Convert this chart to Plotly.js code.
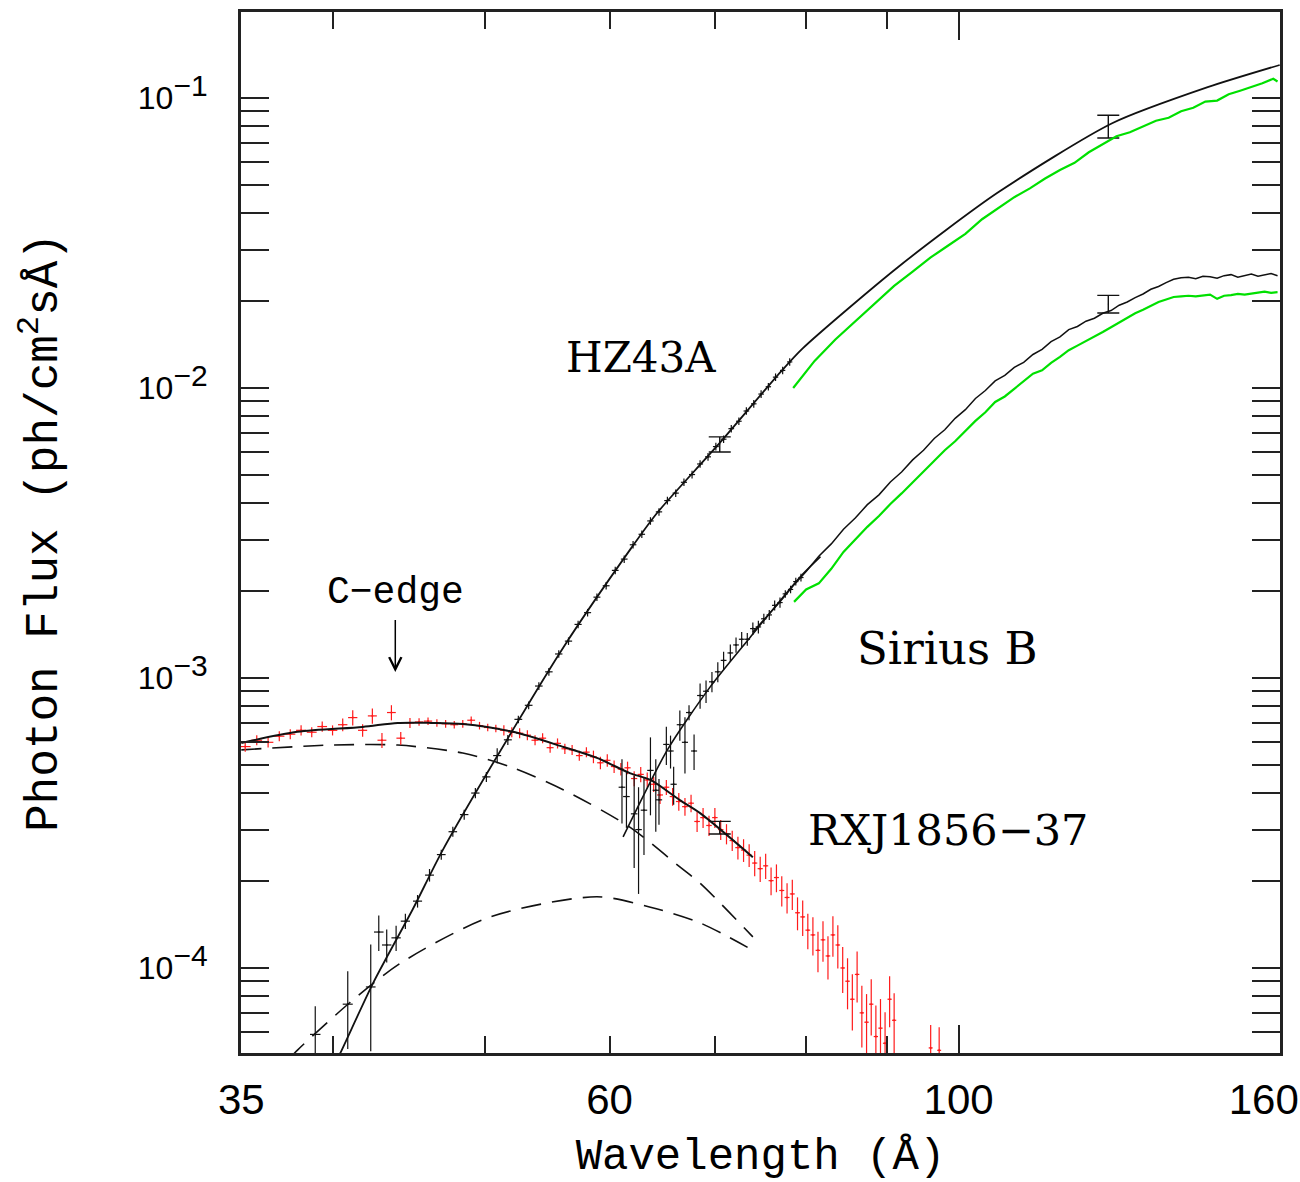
<!DOCTYPE html>
<html>
<head>
<meta charset="utf-8">
<script src="https://cdn.plot.ly/plotly-3.0.1.min.js"></script>
<style>
  html, body { margin: 0; padding: 0; background: #ffffff; }
  #chart { width: 1300px; height: 1182px; }
</style>
</head>
<body>
<div id="chart"></div>
<script>
// ---------------- data ----------------
// axis ticks
const xLabelVals = [35, 60, 100];
const xLabelText = ['35', '60', '100'];
const xEdgeLabelVals = [160];
const xEdgeLabelText = ['160'];
const xMajorTicks = [100];
const xMinorTicks = [40, 50, 60, 70, 80, 90];
const yTickVals = [1e-4, 1e-3, 1e-2, 1e-1];
const yTickExp = ['−4', '−3', '−2', '−1'];
const yMinorTicks = [6e-5, 7e-5, 8e-5, 9e-5,
  2e-4, 3e-4, 4e-4, 5e-4, 6e-4, 7e-4, 8e-4, 9e-4,
  2e-3, 3e-3, 4e-3, 5e-3, 6e-3, 7e-3, 8e-3, 9e-3,
  2e-2, 3e-2, 4e-2, 5e-2, 6e-2, 7e-2, 8e-2, 9e-2];

// HZ43A model (solid black)
const hzModelLam  = [39.5, 40.46, 42.46, 45.0, 47.0, 52.4, 56.1, 61.8, 64.3, 70.2, 77.0, 79.6, 91.5, 105.8, 125.3, 144.0, 160.0];
const hzModelFlux = [3.9e-5, 5.09e-5, 8.9e-5, 1.6e-4, 2.55e-4, 7.0e-4, 1.28e-3, 2.76e-3, 3.7e-3, 6.3e-3, 1.13e-2, 1.37e-2, 2.61e-2, 4.7e-2, 8.2e-2, 0.109, 0.13];

// HZ43A data (black crosses)
const hzLam = [39.0, 40.9, 42.3, 42.8, 43.3, 43.9,
  44.5, 45.3, 46.1, 46.9, 47.7, 48.5, 49.3, 50.1, 50.9, 51.7, 52.5, 53.3, 54.1, 54.9, 55.7,
  56.5, 57.3, 58.1, 58.9, 59.7, 60.5, 61.3, 62.1, 62.9, 63.7, 64.5, 65.3, 66.1, 66.9, 67.7,
  68.5, 69.3, 70.1, 70.9, 71.7, 72.5, 73.3, 74.1, 74.9, 75.7, 76.5, 77.3, 78.1];
const hzFlux = [5.9e-5, 7.5e-5, 8.6e-5, 1.33e-4, 1.2e-4, 1.27e-4,
  1.45e-4, 1.70e-4, 2.09e-4, 2.46e-4, 2.95e-4, 3.38e-4, 4.01e-4, 4.56e-4, 5.40e-4, 6.12e-4, 7.20e-4, 8.05e-4, 9.38e-4, 1.05e-3, 1.21e-3,
  1.34e-3, 1.53e-3, 1.68e-3, 1.90e-3, 2.08e-3, 2.35e-3, 2.57e-3, 2.88e-3, 3.13e-3, 3.48e-3, 3.74e-3, 4.09e-3, 4.34e-3, 4.73e-3, 5.03e-3,
  5.47e-3, 5.79e-3, 6.28e-3, 6.66e-3, 7.24e-3, 7.68e-3, 8.33e-3, 8.82e-3, 9.53e-3, 1.01e-2, 1.09e-2, 1.15e-2, 1.23e-2];
const hzErrPct = [25, 30, 40, 14, 13, 10,
  6, 5, 5, 4, 4, 4, 4, 4, 6, 4, 3, 3, 3, 3, 3,
  3, 3, 3, 3, 3, 3, 3, 3, 3, 3, 3, 3, 3, 3, 3,
  3, 3, 3, 3, 3, 3, 3, 3, 3, 3, 3, 3, 3];

// HZ43A green curve
const hzGreenLam  = [78.5, 81, 83.5, 86, 88.5, 91, 93.5, 96, 98.5, 101, 103.5, 106, 108.5, 111, 113.5, 116, 118.5, 121, 123.5, 126,
  128.5, 131, 133.5, 136, 138.5, 141, 143.5, 146, 148.5, 151, 153.5, 156, 158.5, 159.5];
const hzGreenFlux = [1.00e-2, 1.24e-2, 1.47e-2, 1.70e-2, 1.97e-2, 2.25e-2, 2.52e-2, 2.82e-2, 3.10e-2, 3.40e-2, 3.82e-2, 4.18e-2, 4.55e-2, 4.88e-2, 5.28e-2, 5.65e-2, 5.98e-2, 6.50e-2, 6.95e-2, 7.38e-2,
  7.62e-2, 7.98e-2, 8.35e-2, 8.55e-2, 9.00e-2, 9.25e-2, 9.72e-2, 9.80e-2, 1.03e-1, 1.06e-1, 1.09e-1, 1.125e-1, 1.165e-1, 1.14e-1];

// Sirius B model (solid black)
const sirModelLam  = [61.2, 65.3, 69.5, 73.7, 79.3, 81.7];
const sirModelFlux = [2.83e-4, 5.65e-4, 9.3e-4, 1.38e-3, 2.23e-3, 2.62e-3];

// Sirius B binned data with error bars
const sirLam = [61.1, 61.5, 62.2, 62.6, 63.1, 63.7, 64.2, 64.5, 65.2, 65.6, 65.9, 66.5, 67.0, 67.4, 67.9, 68.5, 69.1, 69.7,
  70.3, 70.9, 71.6, 72.2, 72.8, 73.4, 74.0, 74.6, 75.2, 75.8, 76.4, 77.0, 77.6, 78.2, 78.8, 79.4];
const sirFlux = [4.2e-4, 3.9e-4, 3.4e-4, 3.0e-4, 3.5e-4, 4.8e-4, 4.1e-4, 3.8e-4, 5.9e-4, 5.6e-4, 4.3e-4, 6.9e-4, 6.0e-4, 7.6e-4, 5.6e-4, 8.7e-4, 9.0e-4, 9.7e-4,
  1.05e-3, 1.15e-3, 1.22e-3, 1.30e-3, 1.36e-3, 1.36e-3, 1.48e-3, 1.50e-3, 1.60e-3, 1.65e-3, 1.78e-3, 1.82e-3, 1.95e-3, 2.02e-3, 2.15e-3, 2.22e-3];
const sirErrPct = [25, 22, 35, 40, 30, 30, 28, 18, 15, 13, 15, 12, 22, 6, 14, 10, 9, 8,
  8, 7, 7, 6, 6, 5, 5, 5, 4, 4, 4, 4, 3, 3, 3, 3];

// Sirius B fine-binned spectrum (black, noisy)
const sirLineLam = [74, 75.5, 77, 78.5, 80, 81.5, 83, 84.5, 86, 87.5, 89, 90.5, 92, 93.5, 95, 96.5, 98, 99.5, 101, 102.5,
  104, 105.5, 107, 108.5, 110, 111.5, 113, 114.5, 116, 117.5, 119, 120.5, 122, 123.5, 125, 126.5, 128, 129.5, 131, 132.5,
  134, 135.5, 137, 138.5, 140, 141.5, 143, 144.5, 146, 147.5, 149, 150.5, 152, 153.5, 155, 156.5, 158, 159.5];
const sirLineFlux = [1.44e-3, 1.62e-3, 1.83e-3, 2.08e-3, 2.33e-3, 2.63e-3, 2.90e-3, 3.26e-3, 3.57e-3, 3.96e-3, 4.28e-3, 4.74e-3, 5.13e-3, 5.65e-3, 6.10e-3, 6.70e-3, 7.18e-3, 7.86e-3, 8.42e-3, 9.20e-3,
  9.80e-3, 1.058e-2, 1.105e-2, 1.178e-2, 1.226e-2, 1.305e-2, 1.36e-2, 1.445e-2, 1.50e-2, 1.59e-2, 1.63e-2, 1.70e-2, 1.74e-2, 1.81e-2, 1.85e-2, 1.93e-2, 1.98e-2, 2.05e-2, 2.11e-2, 2.19e-2,
  2.24e-2, 2.31e-2, 2.37e-2, 2.40e-2, 2.41e-2, 2.38e-2, 2.43e-2, 2.42e-2, 2.39e-2, 2.44e-2, 2.46e-2, 2.41e-2, 2.44e-2, 2.47e-2, 2.43e-2, 2.45e-2, 2.48e-2, 2.44e-2];

// Sirius B green curve
const sirGreenLam = [78.6, 80, 81.5, 83, 84.5, 86, 87.5, 89, 90.5, 92, 93.5, 95, 96.5, 98, 99.5, 101, 102.5, 104, 105.5, 107,
  108.5, 110, 111.5, 113, 114.5, 116, 117.5, 119, 120.5, 122, 123.5, 125, 126.5, 128, 129.5, 131, 132.5, 134, 135.5, 137,
  138.5, 140, 141.5, 143, 144.5, 146, 147.5, 149, 150.5, 152, 153.5, 155, 156.5, 158, 159.5];
const sirGreenFlux = [1.83e-3, 2.02e-3, 2.12e-3, 2.38e-3, 2.72e-3, 3.02e-3, 3.32e-3, 3.62e-3, 3.98e-3, 4.33e-3, 4.72e-3, 5.15e-3, 5.60e-3, 6.10e-3, 6.55e-3, 7.10e-3, 7.70e-3, 8.25e-3, 8.95e-3, 9.35e-3,
  9.95e-3, 1.05e-2, 1.12e-2, 1.15e-2, 1.22e-2, 1.28e-2, 1.35e-2, 1.40e-2, 1.45e-2, 1.50e-2, 1.56e-2, 1.62e-2, 1.68e-2, 1.74e-2, 1.81e-2, 1.86e-2, 1.92e-2, 1.98e-2, 2.02e-2, 2.06e-2,
  2.07e-2, 2.08e-2, 2.07e-2, 2.09e-2, 2.10e-2, 2.03e-2, 2.08e-2, 2.09e-2, 2.11e-2, 2.10e-2, 2.12e-2, 2.13e-2, 2.15e-2, 2.13e-2, 2.14e-2];

// RXJ1856-37 data (red)
const rxjLam = [35.2, 35.8, 36.4, 37.0, 37.6, 38.2, 38.8, 39.4, 40.0, 40.6, 41.2, 41.8, 42.4, 43.0, 43.6, 44.2, 44.8, 45.4, 46.0, 46.6,
  47.2, 47.8, 48.4, 49.0, 49.6, 50.2, 50.8, 51.4, 52.0, 52.6, 53.2, 53.8, 54.4, 55.0, 55.6, 56.2, 56.8, 57.4, 58.0, 58.6,
  59.2, 59.8, 60.4, 61.0, 61.6, 62.2, 62.8, 63.4, 64.0, 64.6, 65.2, 65.8, 66.4, 67.0, 67.6, 68.2, 68.8, 69.4, 70.0, 70.6,
  71.2, 71.8, 72.4, 73.0, 73.6, 74.2, 74.8, 75.4, 76.0, 76.6, 77.2, 77.8, 78.4, 79.0, 79.6, 80.2, 80.8, 81.4, 82.0, 82.6,
  83.2, 83.8, 84.4, 85.0, 85.6, 86.2, 86.8, 87.4, 88.0, 88.6, 89.2, 89.8, 90.4, 91.0, 96.0, 97.2];
const rxjFlux = [5.8e-4, 6.1e-4, 6.0e-4, 6.3e-4, 6.4e-4, 6.6e-4, 6.5e-4, 6.8e-4, 6.6e-4, 6.9e-4, 7.3e-4, 6.6e-4, 7.4e-4, 6.1e-4, 7.6e-4, 6.2e-4, 7.0e-4, 7.05e-4, 7.1e-4, 7.0e-4,
  6.95e-4, 6.9e-4, 6.95e-4, 7.15e-4, 6.85e-4, 6.75e-4, 6.7e-4, 6.6e-4, 6.5e-4, 6.45e-4, 6.35e-4, 6.1e-4, 6.2e-4, 5.75e-4, 5.95e-4, 5.7e-4, 5.65e-4, 5.4e-4, 5.55e-4, 5.35e-4,
  5.1e-4, 5.2e-4, 4.95e-4, 4.85e-4, 4.9e-4, 4.5e-4, 4.65e-4, 4.45e-4, 4.3e-4, 3.95e-4, 4.2e-4, 3.9e-4, 3.75e-4, 3.6e-4, 3.7e-4, 3.2e-4, 3.3e-4, 3.1e-4, 3.3e-4, 3.0e-4,
  2.9e-4, 2.75e-4, 2.6e-4, 2.55e-4, 2.45e-4, 2.3e-4, 2.2e-4, 2.25e-4, 2.0e-4, 2.05e-4, 1.85e-4, 1.75e-4, 1.8e-4, 1.55e-4, 1.5e-4, 1.35e-4, 1.3e-4, 1.15e-4, 1.25e-4, 1.1e-4,
  1.3e-4, 1.2e-4, 1.0e-4, 9.0e-5, 7.8e-5, 9.5e-5, 7.0e-5, 6.5e-5, 7.5e-5, 5.8e-5, 6.2e-5, 5.5e-5, 7.8e-5, 6.6e-5, 5.3e-5, 5.2e-5];
const rxjErrPct = [4, 4, 4, 4, 4, 4, 4, 4, 4, 5, 6, 5, 6, 6, 6, 5, 4, 3, 3, 3,
  3, 3, 3, 3, 3, 3, 3, 4, 4, 4, 4, 4, 4, 4, 4, 4, 4, 4, 4, 5,
  5, 5, 5, 5, 5, 6, 6, 6, 6, 7, 6, 7, 7, 7, 7, 8, 8, 8, 8, 8,
  8, 8, 9, 9, 9, 10, 10, 10, 11, 11, 12, 12, 12, 13, 14, 14, 15, 16, 16, 17,
  16, 17, 18, 20, 22, 20, 24, 25, 22, 28, 26, 28, 20, 24, 20, 20];

// RXJ1856-37 total model (solid black) and two components (dashed)
const rxjModelLam  = [35.0, 38.0, 41.8, 44.0, 46.2, 48.4, 52.1, 56.1, 58.9, 61.8, 63.7, 66.5, 68.5, 74.0];
const rxjModelFlux = [5.97e-4, 6.52e-4, 6.78e-4, 7.0e-4, 7.0e-4, 6.94e-4, 6.52e-4, 5.78e-4, 5.30e-4, 4.70e-4, 4.45e-4, 3.79e-4, 3.42e-4, 2.41e-4];
const rxjComp1Lam  = [35.0, 39.9, 44.0, 48.4, 52.1, 56.1, 61.8, 66.5, 68.5, 74.0];
const rxjComp1Flux = [5.65e-4, 5.87e-4, 5.87e-4, 5.51e-4, 4.9e-4, 4.11e-4, 3.06e-4, 2.23e-4, 1.96e-4, 1.28e-4];
const rxjComp2Lam  = [37.6, 38.0, 41.0, 44.2, 50.4, 58.9, 63.7, 68.5, 74.0];
const rxjComp2Flux = [4.9e-5, 5.21e-5, 7.57e-5, 1.04e-4, 1.50e-4, 1.76e-4, 1.62e-4, 1.43e-4, 1.15e-4];

// representative error bars (with caps)
const sysLam = [70.5, 124.5, 124.5, 70.5];
const sysFlux = [6.4e-3, 8.0e-2, 1.95e-2, 3.05e-4];
const sysErrPct = [6, 9, 7, 5];

// ---------------- helpers ----------------
const pctToAbs = (vals, pct) => vals.map((v, i) => v * pct[i] / 100);
const yTickText = yTickExp.map(e => '10<sup><span style="font-size:30px">' + e + '</span></sup>');

const BLACK = '#111111';
const RED = '#ff1a1a';
const GREEN = '#00e000';

const traces = [
  { x: hzGreenLam, y: hzGreenFlux, mode: 'lines', type: 'scatter', xaxis: 'x3',
    line: { color: GREEN, width: 2.2 }, hoverinfo: 'skip' },
  { x: sirGreenLam, y: sirGreenFlux, mode: 'lines', type: 'scatter',
    line: { color: GREEN, width: 2.2 }, hoverinfo: 'skip' },
  { x: rxjComp1Lam, y: rxjComp1Flux, mode: 'lines', type: 'scatter',
    line: { color: BLACK, width: 1.6, dash: '20px,11px', shape: 'spline', smoothing: 0.8 }, hoverinfo: 'skip' },
  { x: rxjComp2Lam, y: rxjComp2Flux, mode: 'lines', type: 'scatter',
    line: { color: BLACK, width: 1.6, dash: '20px,11px', shape: 'spline', smoothing: 0.8 }, hoverinfo: 'skip' },
  { x: rxjLam, y: rxjFlux, mode: 'markers', type: 'scatter',
    marker: { size: 2, color: RED },
    error_y: { type: 'data', array: pctToAbs(rxjFlux, rxjErrPct), color: RED, thickness: 1.2, width: 0 },
    error_x: { type: 'constant', value: 0.28, color: RED, thickness: 1.2, width: 0 },
    hoverinfo: 'skip' },
  { x: rxjModelLam, y: rxjModelFlux, mode: 'lines', type: 'scatter',
    line: { color: BLACK, width: 2, shape: 'spline', smoothing: 0.8 }, hoverinfo: 'skip' },
  { x: hzLam, y: hzFlux, mode: 'markers', type: 'scatter',
    marker: { size: 2, color: BLACK },
    error_y: { type: 'data', array: pctToAbs(hzFlux, hzErrPct), color: BLACK, thickness: 1.2, width: 0 },
    error_x: { type: 'constant', value: 0.3, color: BLACK, thickness: 1.2, width: 0 },
    hoverinfo: 'skip' },
  { x: hzModelLam, y: hzModelFlux, mode: 'lines', type: 'scatter',
    line: { color: BLACK, width: 1.8, shape: 'spline', smoothing: 0.7 }, hoverinfo: 'skip' },
  { x: sirLam, y: sirFlux, mode: 'markers', type: 'scatter',
    marker: { size: 2, color: BLACK },
    error_y: { type: 'data', array: pctToAbs(sirFlux, sirErrPct), color: BLACK, thickness: 1.2, width: 0 },
    error_x: { type: 'constant', value: 0.3, color: BLACK, thickness: 1.2, width: 0 },
    hoverinfo: 'skip' },
  { x: sirModelLam, y: sirModelFlux, mode: 'lines', type: 'scatter',
    line: { color: BLACK, width: 1.6, shape: 'spline', smoothing: 0.7 }, hoverinfo: 'skip' },
  { x: sirLineLam, y: sirLineFlux, mode: 'lines', type: 'scatter',
    line: { color: BLACK, width: 1.5 }, hoverinfo: 'skip' },
  { // representative error bars with caps (overlay x axis with the identical range)
    x: sysLam, y: sysFlux, mode: 'markers', type: 'scatter', xaxis: 'x2',
    marker: { size: 1, color: BLACK },
    error_y: { type: 'data', array: pctToAbs(sysFlux, sysErrPct), color: BLACK, thickness: 1.4, width: 11 },
    hoverinfo: 'skip' }
];

const xRange = [Math.log10(35) - 0.0002, Math.log10(160) + 0.0002];
const yRange = [Math.log10(5.09e-5), Math.log10(0.198)];
const AXIS = '#222222';
const MONO = 'Liberation Mono, DejaVu Sans Mono, monospace';
const SERIF = 'DejaVu Serif, Liberation Serif, serif';
const SANS = 'Liberation Sans, Arial, sans-serif';

const labelAxis = (vals, text, shift) => ({
  type: 'log', range: xRange, autorange: false, overlaying: 'x', anchor: 'y', side: 'bottom',
  showline: false, showgrid: false, zeroline: false, ticks: '',
  tickmode: 'array', tickvals: vals, ticktext: text,
  tickfont: { family: SANS, size: 42, color: '#000' },
  ticklabelstandoff: 18, ticklabelshift: shift, ticklabeloverflow: 'allow'
});

const layout = {
  width: 1300, height: 1182,
  margin: { l: 241, r: 20, t: 12, b: 129 },
  paper_bgcolor: '#ffffff', plot_bgcolor: '#ffffff',
  showlegend: false,
  font: { family: SANS, color: '#000000' },
  xaxis: {
    type: 'log', range: xRange, autorange: false,
    showline: true, linecolor: AXIS, linewidth: 3, mirror: 'allticks',
    showgrid: false, zeroline: false,
    tickmode: 'array', tickvals: xMajorTicks, ticks: 'inside', ticklen: 28, tickwidth: 2, tickcolor: AXIS,
    showticklabels: false,
    minor: { tickmode: 'array', tickvals: xMinorTicks, ticks: 'inside', ticklen: 17, tickwidth: 2, tickcolor: AXIS, showgrid: false },
    title: { text: 'Wavelength (Å)', font: { family: MONO, size: 44 }, standoff: 90 }
  },
  xaxis2: labelAxis(xLabelVals, xLabelText, 0),
  xaxis3: labelAxis(xEdgeLabelVals, xEdgeLabelText, -16),
  yaxis: {
    type: 'log', range: yRange, autorange: false,
    showline: true, linecolor: AXIS, linewidth: 3, mirror: 'allticks',
    showgrid: false, zeroline: false,
    tickmode: 'array', tickvals: yTickVals, ticktext: yTickText,
    ticks: 'inside', ticklen: 28, tickwidth: 2, tickcolor: AXIS,
    tickfont: { family: SANS, size: 32, color: '#000' },
    ticklabelstandoff: 24,
    minor: { tickmode: 'array', tickvals: yMinorTicks, ticks: 'inside', ticklen: 17, tickwidth: 2, tickcolor: AXIS, showgrid: false },
    title: { text: 'Photon Flux (ph/cm<sup>2</sup>sÅ)', font: { family: MONO, size: 46 }, standoff: 66 }
  },
  annotations: [
    { xref: 'paper', yref: 'paper', x: 0.385, y: 0.668, xanchor: 'center', yanchor: 'middle',
      text: 'HZ43A', showarrow: false, font: { family: SERIF, size: 42, color: '#000' } },
    { xref: 'paper', yref: 'paper', x: 0.680, y: 0.389, xanchor: 'center', yanchor: 'middle',
      text: 'Sirius B', showarrow: false, font: { family: SERIF, size: 45, color: '#000' } },
    { xref: 'paper', yref: 'paper', x: 0.680, y: 0.214, xanchor: 'center', yanchor: 'middle',
      text: 'RXJ1856−37', showarrow: false, font: { family: SERIF, size: 43, color: '#000' } },
    { xref: 'paper', yref: 'paper', x: 0.1485, y: 0.366, ax: 0, ay: -79, xanchor: 'center', yanchor: 'middle',
      text: 'C−edge', showarrow: true,
      arrowhead: 5, arrowsize: 1.6, arrowwidth: 1.5, arrowcolor: '#000', standoff: 0, startstandoff: 4,
      font: { family: MONO, size: 38, color: '#000' } }
  ]
};

Plotly.newPlot('chart', traces, layout, { displayModeBar: false, staticPlot: true });
</script>
</body>
</html>
